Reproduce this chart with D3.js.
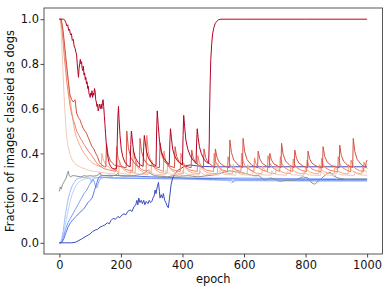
<!DOCTYPE html>
<html><head><meta charset="utf-8">
<script src="https://cdn.jsdelivr.net/npm/d3@7"></script>
<style>body{margin:0;background:#fff}svg{display:block}text{font-family:"DejaVu Sans",sans-serif}</style>
</head><body><svg id="c" width="391" height="292"></svg>
<script>
// ---- data: [epoch, fraction classified as dogs] ----
const xTicks = [0, 200, 400, 600, 800, 1000];
const yTicks = [0.0, 0.2, 0.4, 0.6, 0.8, 1.0];
const xLabel = "epoch";
const yLabel = "Fraction of images classied as dogs";

const blue0 = [[0,0],[20,0],[40,0],[51,0.002],[60,0.008],[72,0.017],[80,0.024],[88,0.03],[94,0.035],[100,0.04],[108,0.05],[116,0.057],[124,0.06],[132,0.07],[140,0.075],[148,0.08],[156,0.09],[162,0.085],[168,0.1],[175,0.11],[182,0.105],[190,0.118],[196,0.112],[203,0.124],[210,0.13],[216,0.125],[222,0.14],[230,0.147],[236,0.14],[242,0.16],[248,0.17],[252,0.19],[255,0.17],[258,0.2],[262,0.18],[266,0.19],[270,0.175],[274,0.19],[278,0.17],[282,0.185],[288,0.175],[292,0.19],[296,0.18],[300,0.184],[304,0.2],[308,0.21],[311,0.236],[314,0.22],[318,0.25],[322,0.27],[325,0.23],[327,0.2],[331,0.215],[335,0.2],[338,0.22],[342,0.19],[346,0.18],[350,0.165],[354,0.157],[358,0.2],[363,0.26],[368,0.29],[376,0.31],[386,0.325],[398,0.335],[410,0.345],[425,0.348],[441,0.345],[460,0.342],[500,0.34],[600,0.34],[700,0.34],[800,0.34],[900,0.34],[1000,0.34]];
const blue1 = [[0,0],[5,0],[10,0.005],[15,0.02],[20,0.04],[28,0.07],[36,0.09],[45,0.105],[56,0.12],[62,0.13],[70,0.14],[78,0.15],[86,0.165],[93,0.18],[100,0.19],[106,0.2],[110,0.215],[114,0.235],[118,0.25],[122,0.27],[127,0.29],[132,0.298],[140,0.3],[160,0.302],[200,0.3],[250,0.298],[300,0.295],[350,0.293],[400,0.29],[450,0.288],[500,0.287],[600,0.285],[700,0.285],[800,0.284],[900,0.283],[1000,0.283]];
const blue2 = [[0,0],[8,0.005],[14,0.03],[20,0.06],[28,0.09],[36,0.11],[44,0.13],[52,0.15],[60,0.17],[70,0.195],[80,0.22],[89,0.236],[96,0.255],[104,0.275],[110,0.285],[114,0.27],[118,0.25],[121,0.245],[125,0.26],[130,0.28],[136,0.29],[145,0.293],[170,0.29],[220,0.288],[300,0.287],[400,0.286],[500,0.283],[560,0.28],[565,0.27],[570,0.28],[700,0.28],[830,0.278],[1000,0.278]];
const blue3 = [[0,0],[4,0],[8,0.02],[12,0.05],[16,0.09],[20,0.13],[25,0.17],[29,0.2],[34,0.225],[40,0.25],[48,0.27],[56,0.285],[66,0.29],[80,0.292],[95,0.29],[102,0.285],[105,0.27],[108,0.28],[115,0.29],[140,0.292],[200,0.29],[300,0.29],[400,0.29],[500,0.29],[600,0.29],[700,0.288],[800,0.287],[900,0.287],[1000,0.286]];
const blue4 = [[0,0],[6,0],[10,0.02],[16,0.06],[22,0.1],[28,0.14],[34,0.18],[40,0.21],[48,0.24],[56,0.26],[66,0.275],[80,0.285],[100,0.29],[130,0.292],[200,0.29],[300,0.288],[400,0.285],[500,0.28],[550,0.278],[560,0.267],[566,0.278],[700,0.276],[800,0.275],[1000,0.275]];
const grayRun = [[0,0.23],[3,0.25],[6,0.24],[10,0.26],[14,0.27],[18,0.28],[22,0.29],[26,0.31],[29,0.32],[32,0.3],[36,0.295],[42,0.3],[50,0.3],[60,0.297],[70,0.295],[80,0.3],[90,0.298],[100,0.3],[110,0.298],[120,0.3],[128,0.305],[132,0.315],[136,0.302],[150,0.3],[170,0.298],[186,0.305],[190,0.312],[195,0.3],[215,0.298],[240,0.3],[260,0.305],[275,0.31],[288,0.325],[295,0.31],[310,0.3],[330,0.298],[350,0.295],[370,0.3],[390,0.298],[420,0.3],[450,0.295],[480,0.3],[500,0.303],[520,0.31],[554,0.322],[580,0.315],[600,0.312],[630,0.3],[650,0.3],[660,0.285],[670,0.28],[685,0.29],[700,0.285],[715,0.275],[740,0.28],[765,0.28],[790,0.295],[808,0.29],[820,0.268],[830,0.262],[845,0.28],[870,0.31],[880,0.316],[890,0.3],[905,0.29],[930,0.284],[960,0.285],[1000,0.285]];
const red1 = [[0,1],[3,1],[6,0.95],[9,0.85],[12,0.76],[15,0.66],[18,0.59],[21,0.52],[24,0.47],[27,0.44],[31,0.415],[36,0.39],[42,0.37],[50,0.355],[60,0.345],[70,0.337],[80,0.332],[95,0.325],[110,0.32],[132,0.316],[150,0.312],[170,0.31],[178,0.308],[180,0.335],[186,0.32],[196,0.311],[230,0.306],[232,0.33],[238,0.318],[248,0.309],[288,0.305],[290,0.33],[296,0.317],[306,0.308],[343,0.304],[345,0.325],[351,0.314],[361,0.307],[398,0.304],[400,0.325],[406,0.314],[416,0.307],[453,0.303],[455,0.322],[461,0.312],[471,0.306],[518,0.303],[520,0.325],[526,0.314],[536,0.306],[573,0.302],[575,0.322],[581,0.312],[591,0.305],[628,0.302],[630,0.32],[636,0.311],[646,0.305],[688,0.302],[690,0.322],[696,0.312],[706,0.305],[738,0.302],[740,0.32],[746,0.311],[756,0.304],[793,0.301],[795,0.318],[801,0.31],[811,0.304],[848,0.301],[850,0.32],[856,0.31],[866,0.304],[898,0.301],[900,0.318],[906,0.31],[916,0.304],[958,0.301],[960,0.32],[966,0.31],[976,0.304],[1000,0.302]];
const red2 = [[0,1],[5,1],[9,0.97],[13,0.92],[17,0.86],[21,0.8],[25,0.76],[29,0.72],[33,0.66],[37,0.62],[41,0.58],[45,0.54],[50,0.5],[56,0.47],[62,0.45],[67,0.435],[74,0.415],[82,0.397],[89,0.385],[96,0.372],[103,0.362],[110,0.355],[118,0.349],[126,0.344],[134,0.34],[136,0.34],[138,0.4],[143,0.37],[151,0.35],[165,0.333],[185,0.322],[193,0.315],[195,0.37],[200,0.344],[208,0.327],[222,0.316],[246,0.312],[248,0.365],[253,0.341],[261,0.325],[275,0.314],[298,0.311],[300,0.37],[305,0.344],[313,0.326],[327,0.314],[350,0.31],[352,0.36],[357,0.338],[365,0.323],[379,0.313],[403,0.31],[405,0.355],[410,0.335],[418,0.322],[432,0.313],[456,0.309],[458,0.35],[463,0.332],[471,0.32],[485,0.312],[513,0.309],[515,0.355],[520,0.334],[528,0.321],[542,0.312],[563,0.309],[565,0.35],[570,0.332],[578,0.32],[592,0.312],[610,0.309],[612,0.35],[617,0.332],[625,0.32],[639,0.312],[658,0.309],[660,0.345],[665,0.329],[673,0.318],[687,0.311],[703,0.309],[705,0.35],[710,0.332],[718,0.32],[732,0.312],[750,0.309],[752,0.345],[757,0.329],[765,0.318],[779,0.311],[798,0.308],[800,0.34],[805,0.326],[813,0.317],[827,0.311],[843,0.308],[845,0.35],[850,0.331],[858,0.32],[872,0.312],[893,0.308],[895,0.345],[900,0.329],[908,0.318],[922,0.311],[938,0.308],[940,0.35],[945,0.331],[953,0.32],[967,0.312],[983,0.308],[985,0.34],[990,0.326],[998,0.317],[1000,0.316]];
const red3 = [[0,1],[4,1],[8,0.96],[12,0.9],[16,0.83],[20,0.78],[24,0.72],[28,0.68],[32,0.64],[36,0.6],[40,0.575],[45,0.55],[50,0.53],[56,0.5],[62,0.485],[67,0.47],[74,0.455],[80,0.44],[87,0.425],[94,0.41],[100,0.4],[105,0.39],[110,0.38],[115,0.37],[120,0.36],[126,0.35],[135,0.34],[145,0.332],[160,0.326],[175,0.322],[184,0.32],[186,0.43],[191,0.38],[199,0.349],[213,0.329],[238,0.32],[240,0.42],[245,0.374],[253,0.347],[267,0.328],[282,0.32],[284,0.48],[289,0.407],[297,0.363],[311,0.334],[338,0.319],[340,0.41],[345,0.369],[353,0.344],[367,0.327],[393,0.319],[395,0.4],[400,0.363],[408,0.341],[422,0.326],[448,0.319],[450,0.39],[455,0.358],[463,0.338],[477,0.325],[501,0.319],[503,0.4],[508,0.363],[516,0.341],[530,0.326],[546,0.319],[548,0.385],[553,0.355],[561,0.337],[575,0.325],[590,0.319],[592,0.4],[597,0.363],[605,0.341],[619,0.326],[632,0.319],[634,0.38],[639,0.352],[647,0.336],[661,0.324],[676,0.319],[678,0.39],[683,0.358],[691,0.338],[705,0.325],[716,0.319],[718,0.385],[723,0.355],[731,0.337],[745,0.325],[758,0.319],[760,0.375],[765,0.35],[773,0.334],[787,0.324],[803,0.318],[805,0.37],[810,0.347],[818,0.333],[832,0.323],[850,0.318],[852,0.378],[857,0.351],[865,0.335],[879,0.324],[904,0.318],[906,0.385],[911,0.355],[919,0.337],[933,0.325],[946,0.318],[948,0.37],[953,0.347],[961,0.333],[975,0.323],[988,0.318],[990,0.36],[995,0.341],[1000,0.332]];
const red4 = [[0,1],[6,1],[12,0.95],[18,0.87],[24,0.79],[29,0.725],[34,0.665],[40,0.64],[45,0.63],[51,0.64],[56,0.58],[62,0.56],[67,0.55],[72,0.53],[78,0.51],[83,0.5],[88,0.49],[94,0.47],[100,0.45],[106,0.43],[112,0.42],[118,0.4],[124,0.385],[130,0.36],[136,0.35],[146,0.34],[151,0.34],[153,0.445],[158,0.396],[166,0.366],[180,0.346],[217,0.336],[219,0.5],[224,0.426],[232,0.381],[246,0.352],[260,0.337],[262,0.467],[267,0.408],[275,0.372],[289,0.348],[325,0.336],[327,0.446],[332,0.396],[340,0.366],[354,0.346],[374,0.336],[376,0.43],[381,0.387],[389,0.362],[403,0.345],[428,0.336],[430,0.415],[435,0.379],[443,0.357],[457,0.343],[468,0.336],[470,0.42],[475,0.382],[483,0.359],[497,0.344],[505,0.336],[507,0.42],[512,0.382],[520,0.359],[534,0.344],[552,0.336],[554,0.46],[559,0.404],[567,0.37],[581,0.348],[595,0.337],[597,0.467],[602,0.408],[610,0.372],[624,0.348],[644,0.336],[646,0.41],[651,0.376],[659,0.356],[673,0.343],[682,0.337],[684,0.4],[689,0.371],[697,0.353],[711,0.342],[720,0.337],[722,0.445],[727,0.396],[735,0.366],[749,0.346],[763,0.337],[765,0.415],[770,0.379],[778,0.357],[792,0.343],[806,0.336],[808,0.41],[813,0.376],[821,0.356],[835,0.343],[855,0.336],[857,0.43],[862,0.387],[870,0.362],[884,0.345],[909,0.336],[911,0.437],[916,0.391],[924,0.364],[938,0.345],[953,0.337],[955,0.467],[960,0.408],[968,0.372],[982,0.348],[995,0.337],[997,0.36],[1000,0.37]];
const red5 = [[0,1],[8,1],[14,1],[18,0.995],[21,0.985],[24,0.97],[27,0.975],[30,0.95],[33,0.955],[36,0.93],[39,0.935],[42,0.905],[45,0.91],[48,0.88],[51,0.87],[54,0.85],[56,0.84],[58,0.8],[60,0.77],[62,0.74],[64,0.78],[66,0.8],[68,0.82],[70,0.8],[72,0.81],[74,0.78],[76,0.77],[78,0.79],[80,0.75],[82,0.76],[84,0.73],[86,0.74],[88,0.71],[90,0.72],[92,0.69],[94,0.7],[96,0.67],[98,0.66],[100,0.65],[102,0.67],[104,0.66],[106,0.68],[108,0.65],[110,0.67],[112,0.66],[114,0.69],[116,0.68],[118,0.64],[120,0.63],[122,0.61],[124,0.62],[126,0.59],[128,0.6],[130,0.62],[132,0.61],[134,0.6],[136,0.62],[138,0.6],[140,0.63],[142,0.64],[144,0.61],[146,0.57],[148,0.53],[150,0.49],[152,0.45],[155,0.41],[158,0.38],[162,0.355],[167,0.34],[173,0.333],[180,0.33],[186,0.332],[188,0.45],[190,0.56],[192,0.61],[194,0.55],[197,0.48],[201,0.42],[206,0.385],[213,0.36],[222,0.345],[230,0.34],[232,0.44],[234,0.5],[237,0.46],[241,0.41],[247,0.38],[255,0.36],[264,0.348],[272,0.342],[274,0.43],[276,0.48],[279,0.45],[283,0.41],[289,0.38],[297,0.362],[306,0.35],[314,0.345],[316,0.5],[318,0.59],[321,0.53],[325,0.46],[331,0.41],[339,0.38],[348,0.362],[357,0.35],[359,0.45],[361,0.51],[364,0.47],[368,0.42],[374,0.39],[382,0.37],[392,0.355],[400,0.35],[402,0.48],[404,0.57],[407,0.52],[411,0.46],[417,0.42],[425,0.39],[434,0.37],[444,0.355],[446,0.45],[448,0.51],[451,0.47],[455,0.43],[461,0.4],[469,0.375],[478,0.36],[485,0.355],[487,0.45],[488,0.58],[490,0.72],[492,0.82],[495,0.89],[498,0.935],[502,0.962],[506,0.98],[511,0.99],[517,0.997],[525,1],[600,1],[800,1],[1000,1]];

const runs = [blue4, blue3, blue2, blue1, blue0, grayRun, red1, red2, red3, red4, red5];
const runColors = ["#c0d4f5", "#9ebeff", "#7b9ff9", "#5977e3", "#3b4cc0", "#8f8f8f", "#f2cbb7", "#f7ac8e", "#ee8468", "#d65244", "#b40426"];

// ---- layout ----
const svg = d3.select("#c");
const L = 44, R = 382.5, T = 8, B = 254;
const x = d3.scaleLinear().domain([-50, 1050]).range([L, R]);
const y = d3.scaleLinear().domain([-0.05, 1.05]).range([B, T]);

svg.append("defs").append("clipPath").attr("id", "clip")
  .append("rect").attr("x", L).attr("y", T).attr("width", R - L).attr("height", B - T);

const line = d3.line().x(d => x(d[0])).y(d => y(d[1]));
const g = svg.append("g").attr("clip-path", "url(#clip)");
runs.forEach((r, i) => {
  g.append("path").datum(r).attr("d", line)
    .attr("fill", "none").attr("stroke", runColors[i]).attr("stroke-width", 1)
    .attr("stroke-linejoin", "round");
});

// frame
svg.append("rect").attr("x", L).attr("y", T).attr("width", R - L).attr("height", B - T)
  .attr("fill", "none").attr("stroke", "#444").attr("stroke-width", 0.9);

const fs = 11.4;
const xAxis = svg.append("g").attr("transform", `translate(0,${B})`)
  .call(d3.axisBottom(x).tickValues(xTicks).tickSize(3.5).tickPadding(3.7).tickFormat(d3.format("d")));
const yAxis = svg.append("g").attr("transform", `translate(${L},0)`)
  .call(d3.axisLeft(y).tickValues(yTicks).tickSize(3.5).tickPadding(1.6).tickFormat(d3.format(".1f")));
[xAxis, yAxis].forEach(a => {
  a.select(".domain").remove();
  a.selectAll(".tick line").attr("stroke", "#333").attr("stroke-width", 0.9);
  a.selectAll(".tick text").attr("fill", "#111").style("font-size", fs + "px").style("font-family", "DejaVu Sans");
});

svg.append("text").attr("x", (L + R) / 2).attr("y", 283).attr("text-anchor", "middle")
  .style("font-size", fs + "px").attr("fill", "#111").text(xLabel);
svg.append("text").attr("transform", `translate(14,${(T + B) / 2}) rotate(-90)`).attr("text-anchor", "middle")
  .style("font-size", fs + "px").attr("fill", "#111").text(yLabel);
</script></body></html>
